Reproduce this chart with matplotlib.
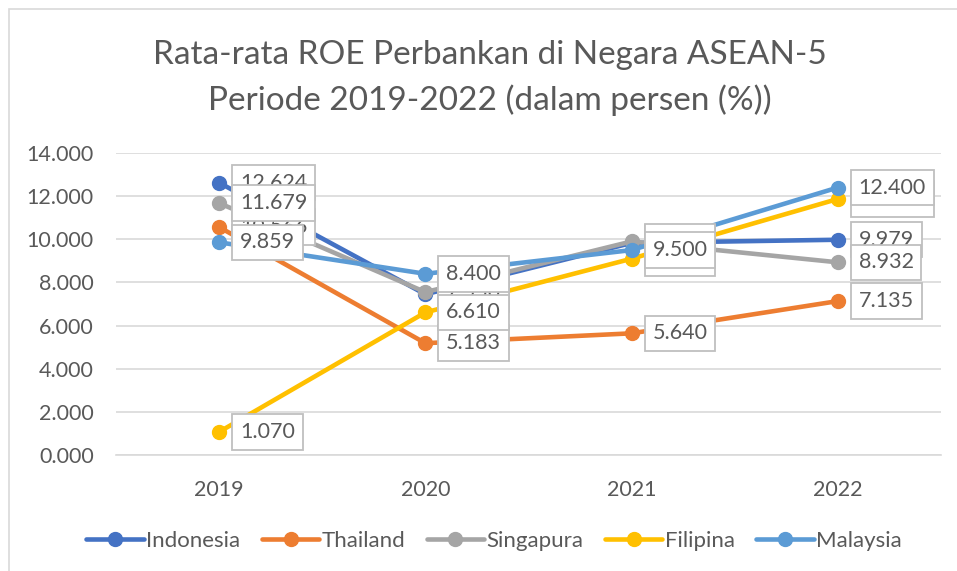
import matplotlib
matplotlib.use('Agg')
import matplotlib.pyplot as plt
from matplotlib.patches import Rectangle

years = ['2019', '2020', '2021', '2022']
indonesia = [12.624, 7.45, 9.83, 9.979]
thailand = [10.566, 5.183, 5.640, 7.135]
singapura = [11.679, 7.55, 9.90, 8.932]
filipina = [1.070, 6.610, 9.10, 11.870]
malaysia = [9.859, 8.400, 9.500, 12.400]

names = ['Indonesia', 'Thailand', 'Singapura', 'Filipina', 'Malaysia']
colors = ['#4472C4', '#ED7D31', '#A5A5A5', '#FFC000', '#5B9BD5']
TEXT = '#595959'
GRID = '#D9D9D9'

plt.rcParams['font.family'] = ['Lato', 'DejaVu Sans']

fig = plt.figure(figsize=(9.57, 5.71), dpi=100)
ax = fig.add_axes([116 / 957, 1 - 455 / 571, (941 - 116) / 957, (455 - 153) / 571])

# chart frame (only top/left visible in the reference)
fig.patches.append(Rectangle((9 / 957, -0.1), 1.2, (571 - 9) / 571 + 0.1,
                             transform=fig.transFigure, fill=False,
                             edgecolor=GRID, linewidth=1.2))

x = list(range(len(years)))
series = [indonesia, thailand, singapura, filipina, malaysia]
for i, (vals, name, c) in enumerate(zip(series, names, colors)):
    ax.plot(x, vals, color=c, linewidth=3.3, marker='o', markersize=10,
            solid_capstyle='round', label=name, zorder=3 + i * 0.1)

for i, (vals, c) in enumerate(zip(series, colors)):
    for xi, v in zip(x, vals):
        ax.annotate('%.3f' % v, (xi, v), xytext=(15, 0), textcoords='offset points',
                    ha='left', va='center', fontsize=15.5, color=TEXT,
                    bbox=dict(boxstyle='square,pad=0.36', fc='white', ec='#BFBFBF', lw=1.3),
                    zorder=10 + i, annotation_clip=False)

ax.set_xlim(-0.5, 3.5)
ax.set_ylim(0, 14)
ax.set_yticks(range(0, 15, 2))
ax.set_yticklabels(['%.3f' % v for v in range(0, 15, 2)])
ax.set_xticks(x)
ax.set_xticklabels(years)
ax.grid(axis='y', color=GRID, linewidth=1.2)
ax.set_axisbelow(True)
for s in ['top', 'right', 'left']:
    ax.spines[s].set_visible(False)
ax.spines['bottom'].set_color(GRID)
ax.spines['bottom'].set_linewidth(1.2)
ax.tick_params(axis='both', length=0, labelsize=15.5, colors=TEXT)
ax.tick_params(axis='y', pad=16)
ax.tick_params(axis='x', pad=18)

fig.text(490 / 957, 1 - 55 / 571, 'Rata-rata ROE Perbankan di Negara ASEAN-5',
         ha='center', va='center', fontsize=24, color=TEXT)
fig.text(490 / 957, 1 - 100 / 571, 'Periode 2019-2022 (dalam persen (%))',
         ha='center', va='center', fontsize=24, color=TEXT)

leg = fig.legend(loc='center', bbox_to_anchor=(494 / 957, 1 - 541 / 571), ncol=5,
                 frameon=False, fontsize=16, handlelength=2.6, handletextpad=0.1,
                 columnspacing=0.95)
for t in leg.get_texts():
    t.set_color(TEXT)

fig.savefig('out.png', dpi=100)
